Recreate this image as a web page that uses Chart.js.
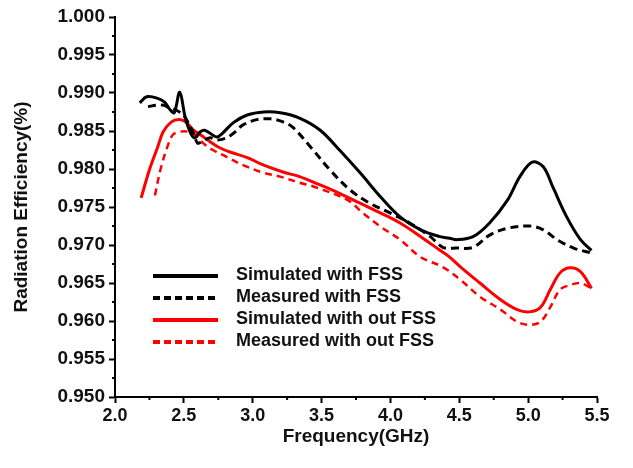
<!DOCTYPE html>
<html>
<head>
<meta charset="utf-8">
<script src="https://cdn.jsdelivr.net/npm/chart.js@4.4.0/dist/chart.umd.min.js"></script>
<style>
  body { margin: 0; background: #fff; }
  #wrap { width: 633px; height: 468px; }
</style>
</head>
<body>
<div id="wrap"><canvas id="chart" width="633" height="468"></canvas></div>
<script>
// values
const simFssX = [2.18, 2.23, 2.31, 2.36, 2.40, 2.43, 2.47, 2.51, 2.55, 2.58, 2.62, 2.65, 2.69, 2.74, 2.78, 2.86, 2.96, 3.08, 3.20, 3.34, 3.49, 3.63, 3.78, 3.93, 4.07, 4.22, 4.36, 4.43, 4.48, 4.60, 4.72, 4.85, 4.94, 5.03, 5.11, 5.18, 5.28, 5.38, 5.46];
const simFssY = [0.9887, 0.9895, 0.9893, 0.9888, 0.9878, 0.9874, 0.9901, 0.9868, 0.9847, 0.9841, 0.9849, 0.9851, 0.9847, 0.9842, 0.9847, 0.9861, 0.9871, 0.9875, 0.9874, 0.9867, 0.9851, 0.9825, 0.9795, 0.9763, 0.9737, 0.9720, 0.9711, 0.9709, 0.9707, 0.9711, 0.9729, 0.9759, 0.9790, 0.9809, 0.9803, 0.9776, 0.9737, 0.9707, 0.9693];

const measFssX = [2.24, 2.30, 2.35, 2.40, 2.45, 2.50, 2.56, 2.60, 2.63, 2.69, 2.74, 2.81, 2.86, 2.93, 3.03, 3.13, 3.22, 3.29, 3.42, 3.56, 3.71, 3.85, 4.00, 4.14, 4.29, 4.38, 4.48, 4.60, 4.72, 4.85, 5.01, 5.11, 5.21, 5.33, 5.45];
const measFssY = [0.9882, 0.9884, 0.9884, 0.9880, 0.9877, 0.9870, 0.9851, 0.9834, 0.9836, 0.9841, 0.9838, 0.9841, 0.9847, 0.9858, 0.9865, 0.9866, 0.9862, 0.9855, 0.9829, 0.9799, 0.9772, 0.9755, 0.9742, 0.9729, 0.9711, 0.9697, 0.9696, 0.9697, 0.9713, 0.9722, 0.9725, 0.9720, 0.9707, 0.9696, 0.9690];

const simNoX = [2.19, 2.25, 2.31, 2.35, 2.41, 2.47, 2.52, 2.57, 2.62, 2.69, 2.76, 2.84, 2.96, 3.08, 3.22, 3.34, 3.49, 3.63, 3.78, 3.93, 4.07, 4.22, 4.36, 4.43, 4.51, 4.65, 4.80, 4.92, 5.01, 5.09, 5.16, 5.23, 5.30, 5.38, 5.46];
const simNoY = [0.9762, 0.9799, 0.9829, 0.9849, 0.9862, 0.9865, 0.9861, 0.9851, 0.9845, 0.9836, 0.9828, 0.9822, 0.9815, 0.9805, 0.9796, 0.9790, 0.9779, 0.9768, 0.9755, 0.9742, 0.9729, 0.9711, 0.9693, 0.9684, 0.9671, 0.9650, 0.9628, 0.9615, 0.9612, 0.9618, 0.9641, 0.9663, 0.9670, 0.9665, 0.9643];

const measNoX = [2.29, 2.33, 2.38, 2.42, 2.47, 2.53, 2.60, 2.64, 2.71, 2.81, 2.93, 3.08, 3.20, 3.34, 3.44, 3.69, 3.80, 3.93, 4.07, 4.22, 4.38, 4.51, 4.65, 4.80, 4.92, 5.01, 5.09, 5.16, 5.23, 5.30, 5.38, 5.46];
const measNoY = [0.9765, 0.9799, 0.9829, 0.9845, 0.9849, 0.9849, 0.9842, 0.9834, 0.9825, 0.9816, 0.9805, 0.9795, 0.9790, 0.9782, 0.9777, 0.9759, 0.9742, 0.9724, 0.9707, 0.9684, 0.9671, 0.9654, 0.9632, 0.9615, 0.9599, 0.9595, 0.9599, 0.9618, 0.9641, 0.9647, 0.9650, 0.9643];

const seriesLabels = ['Simulated with FSS', 'Measured with FSS', 'Simulated with out FSS', 'Measured with out FSS'];

function toPoints(xs, ys) {
    return xs.map((x, i) => ({ x: x, y: ys[i] }));
}

const fontFamily = '"Liberation Sans", Arial, sans-serif';

// legend drawn inside the plot, like the original
const innerLegend = {
    id: 'innerLegend',
    afterDraw(chart) {
        const ctx = chart.ctx;
        const rows = [276, 298, 320, 342];
        ctx.save();
        ctx.font = 'bold 18px ' + fontFamily;
        ctx.textBaseline = 'middle';
        ctx.fillStyle = '#111';
        chart.data.datasets.forEach((ds, i) => {
            const y = rows[i];
            ctx.beginPath();
            ctx.strokeStyle = ds.borderColor;
            ctx.lineWidth = 4;
            ctx.setLineDash(ds.borderDash && ds.borderDash.length ? [7, 4] : []);
            ctx.moveTo(153, y);
            ctx.lineTo(218, y);
            ctx.stroke();
            ctx.setLineDash([]);
            ctx.fillText(ds.label, 236, y - 1);
        });
        ctx.restore();
    }
};

// short minor ticks between the labelled ones
const minorTicks = {
    id: 'minorTicks',
    afterDraw(chart) {
        const ctx = chart.ctx;
        const xs = chart.scales.x, ys = chart.scales.y;
        ctx.save();
        ctx.strokeStyle = '#000';
        ctx.lineWidth = 2;
        ctx.beginPath();
        for (let v = 2.25; v < 5.5; v += 0.5) {
            const px = xs.getPixelForValue(v);
            ctx.moveTo(px, ys.bottom);
            ctx.lineTo(px, ys.bottom + 3);
        }
        for (let v = 0.9525; v < 1.0; v += 0.005) {
            const py = ys.getPixelForValue(v);
            ctx.moveTo(xs.left, py);
            ctx.lineTo(xs.left - 3, py);
        }
        ctx.stroke();
        ctx.restore();
    }
};

const ctx = document.getElementById('chart').getContext('2d');
new Chart(ctx, {
    type: 'line',
    data: {
        datasets: [
            { label: seriesLabels[0], data: toPoints(simFssX, simFssY), borderColor: '#000000', borderWidth: 3, borderDash: [] },
            { label: seriesLabels[1], data: toPoints(measFssX, measFssY), borderColor: '#000000', borderWidth: 3, borderDash: [8, 5] },
            { label: seriesLabels[2], data: toPoints(simNoX, simNoY), borderColor: '#ff0000', borderWidth: 3, borderDash: [] },
            { label: seriesLabels[3], data: toPoints(measNoX, measNoY), borderColor: '#ff0000', borderWidth: 2.5, borderDash: [7, 5] }
        ]
    },
    options: {
        responsive: false,
        animation: false,
        layout: { padding: { left: 0, top: 17, right: 36, bottom: 0 } },
        elements: {
            point: { radius: 0 },
            line: { tension: 0.35, fill: false }
        },
        plugins: {
            legend: { display: false },
            tooltip: { enabled: false }
        },
        scales: {
            x: {
                type: 'linear',
                min: 2.0,
                max: 5.5,
                afterFit: (scale) => { scale.height = 71; },
                ticks: {
                    stepSize: 0.5,
                    padding: 2,
                    color: '#111',
                    font: { family: fontFamily, size: 18, weight: 'bold' },
                    callback: (v) => v.toFixed(1)
                },
                grid: { drawOnChartArea: false, drawTicks: true, tickLength: 6, tickColor: '#000', tickWidth: 2 },
                border: { display: true, color: '#000', width: 2 },
                title: {
                    display: true,
                    text: 'Frequency(GHz)',
                    color: '#111',
                    font: { family: fontFamily, size: 19, weight: 'bold' },
                    padding: { bottom: 20 }
                }
            },
            y: {
                min: 0.95,
                max: 1.0,
                afterFit: (scale) => { scale.width = 115; },
                ticks: {
                    stepSize: 0.005,
                    padding: 4,
                    color: '#111',
                    font: { family: fontFamily, size: 19, weight: 'bold' },
                    callback: (v) => v.toFixed(3)
                },
                grid: { drawOnChartArea: false, drawTicks: true, tickLength: 6, tickColor: '#000', tickWidth: 2 },
                border: { display: true, color: '#000', width: 2 },
                title: {
                    display: true,
                    text: 'Radiation Efficiency(%)',
                    color: '#111',
                    font: { family: fontFamily, size: 19, weight: 'bold' },
                    padding: { top: 10 }
                }
            }
        }
    },
    plugins: [innerLegend, minorTicks]
});
</script>
</body>
</html>
